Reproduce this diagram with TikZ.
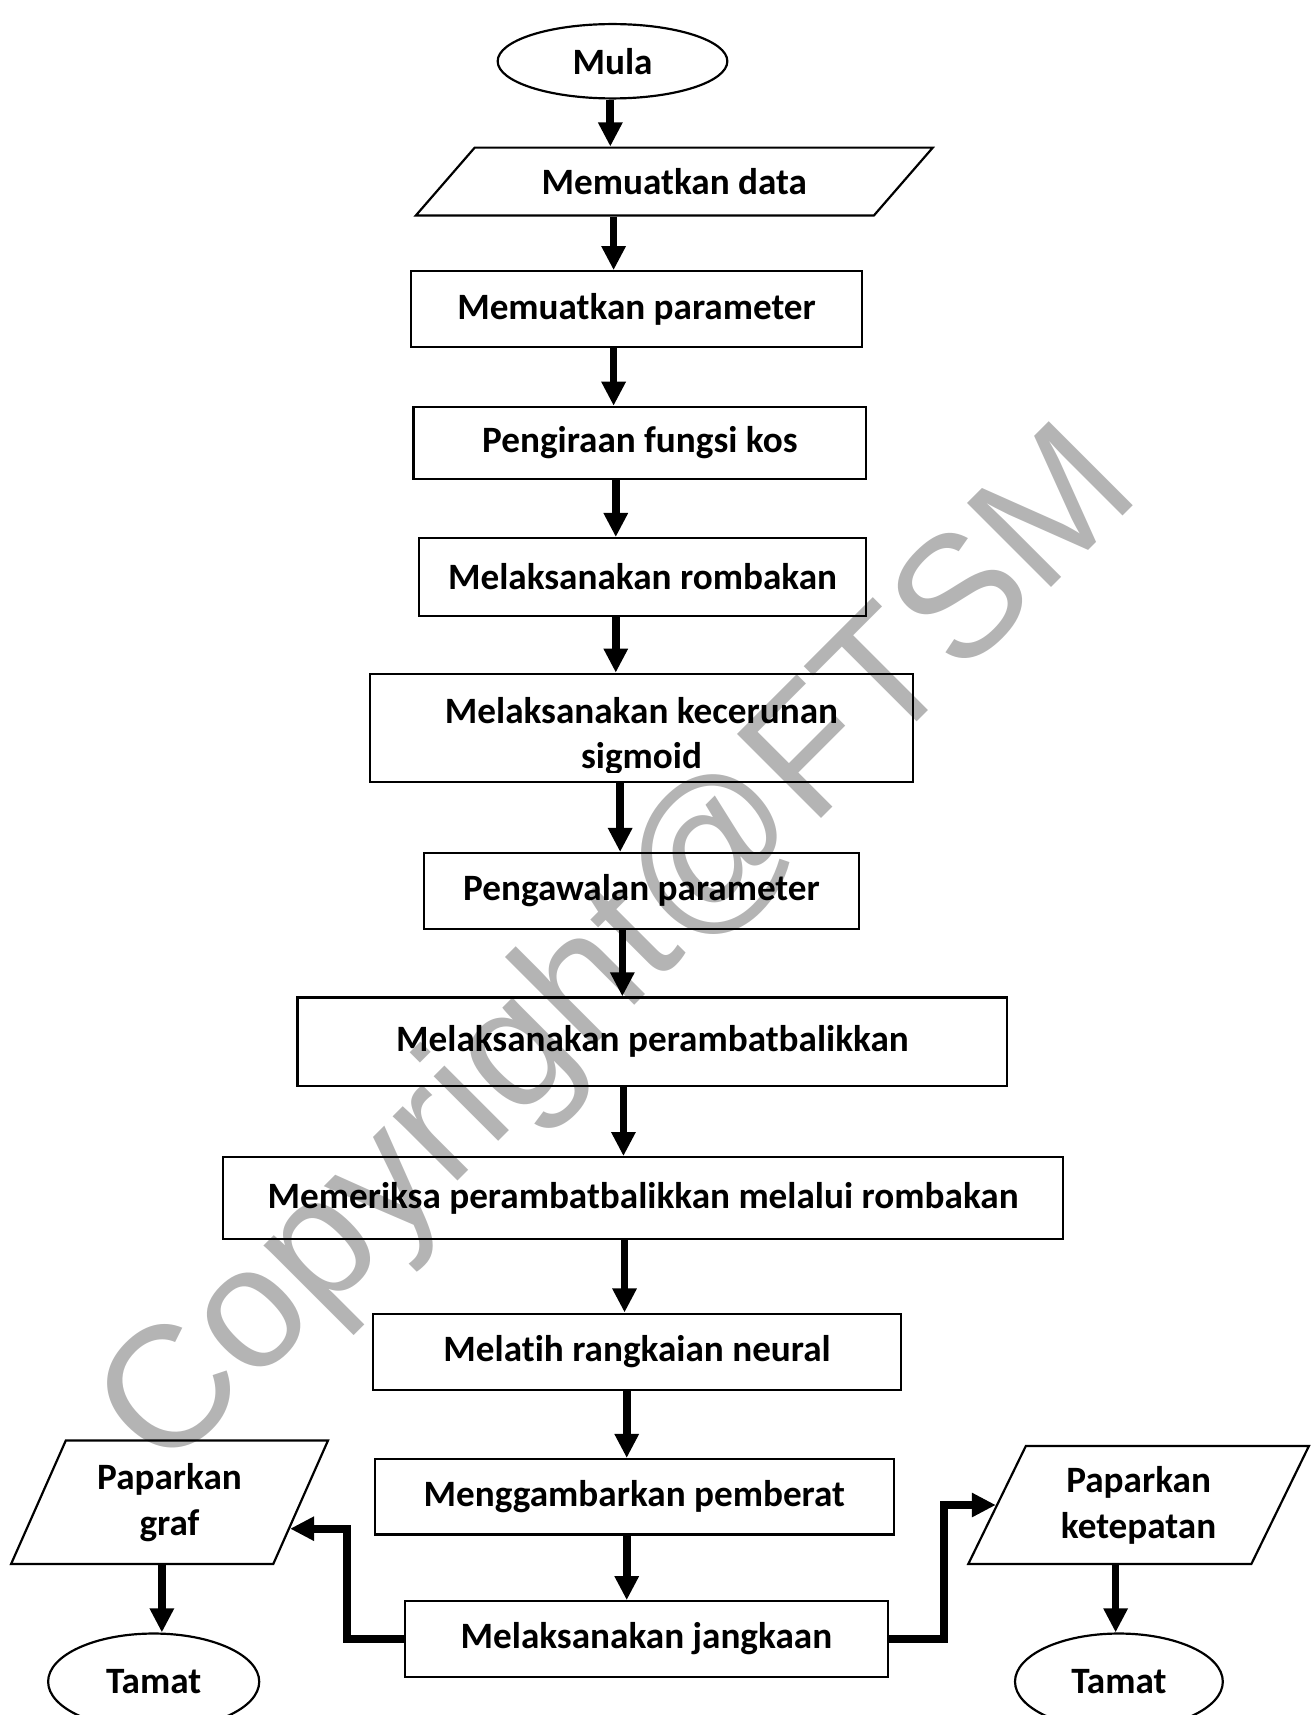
\documentclass[tikz,border=0pt]{standalone}
\usepackage{fontspec}
\setmainfont[Ligatures=NoCommon]{Carlito}
\newfontfamily\wmfont{Liberation Sans}
\usepackage{tikz}
\usetikzlibrary{arrows.meta,shapes.geometric,calc}
\definecolor{wmgray}{HTML}{B4B4B4}

\begin{document}
\begin{tikzpicture}[
  x=0.5pt,y=-0.5pt,
  every node/.style={font=\bfseries\fontsize{17}{21}\selectfont,align=center,inner sep=2pt},
  box/.style={draw,line width=1pt},
  term/.style={draw,ellipse,line width=1pt,inner sep=0pt},
  io/.style={draw,trapezium,trapezium stretches=true,line width=1pt,inner sep=0pt},
  arr/.style={-{Triangle[length=11pt,width=10.5pt]},line width=3.5pt}
]
\useasboundingbox (0,0) rectangle (1203,1568);
% watermark
\node[rotate=45,text=wmgray,font=\wmfont\mdseries\fontsize{79}{79}\selectfont] (wm) at (569,872) {Copyright@FTSM};

\node[term,minimum width=105pt,minimum height=34pt] (mula) at (560,56) {Mula};
\node[io,trapezium left angle=34,trapezium right angle=146,
      minimum width=236.5pt,minimum height=31pt] (data) at (616.5,166) {Memuatkan data};
\node[box,minimum width=206pt,minimum height=34.5pt] (param) at (582,282.5) {Memuatkan parameter};
\node[box,minimum width=207pt,minimum height=33pt] (kos) at (585,405) {Pengiraan fungsi kos};
\node[box,minimum width=204.5pt,minimum height=35.5pt] (romb) at (587.5,527.5) {Melaksanakan rombakan};
\node[box,minimum width=248.5pt,minimum height=49.5pt] (kecer) at (586.5,665.5) {};
% text runs past the box bottom, cut off as in the source
\begin{scope}
  \clip (kecer.north west) rectangle (kecer.east |- 0,706);
  \node (kecerT) at (586.5,673) {Melaksanakan kecerunan\\sigmoid};
\end{scope}
\node[box,minimum width=198.5pt,minimum height=34.5pt] (awal) at (586.5,814.5) {Pengawalan parameter};
\node[box,minimum width=324.5pt,minimum height=40.5pt] (rambat) at (596.5,952.5) {Melaksanakan perambatbalikkan};
\node[box,minimum width=384pt,minimum height=37.5pt] (periksa) at (588,1095.5) {Memeriksa perambatbalikkan melalui rombakan};
\node[box,minimum width=241.5pt,minimum height=35pt] (latih) at (582.5,1236) {Melatih rangkaian neural};
\node[box,minimum width=237pt,minimum height=34.5pt] (gambar) at (580,1368.5) {Menggambarkan pemberat};
\node[box,minimum width=221pt,minimum height=34.5pt] (jangka) at (591,1498.5) {Melaksanakan jangkaan};

\node[io,trapezium left angle=64,trapezium right angle=116,
      minimum width=145pt,minimum height=56.5pt] (graf) at (155,1373.5) {Paparkan\\graf};
\node[io,trapezium left angle=63,trapezium right angle=117,
      minimum width=156pt,minimum height=54pt] (kete) at (1041,1376) {Paparkan\\ketepatan};
\node[term,minimum width=96.5pt,minimum height=44pt] (tamatL) at (140.5,1537.5) {Tamat};
\node[term,minimum width=95pt,minimum height=44pt] (tamatR) at (1023,1537.5) {Tamat};

% main column
\foreach \a/\b/\x in {mula/data/558,data/param/561,param/kos/561,kos/romb/563,
    romb/kecer/563,kecer/awal/567,awal/rambat/569,rambat/periksa/570,
    periksa/latih/571,latih/gambar/573,gambar/jangka/573,
    graf/tamatL/148,kete/tamatR/1020}
  \draw[arr] (\a.south -| \x,0) -- (\b.north -| \x,0);

% outputs
\draw[arr] (jangka.west) -- ++(-52,0) |- ($(graf.bottom right corner)!0.29!(graf.top right corner)$);
\draw[arr] (jangka.east) -- ++(50,0) |- (kete.west);
\end{tikzpicture}
\end{document}
